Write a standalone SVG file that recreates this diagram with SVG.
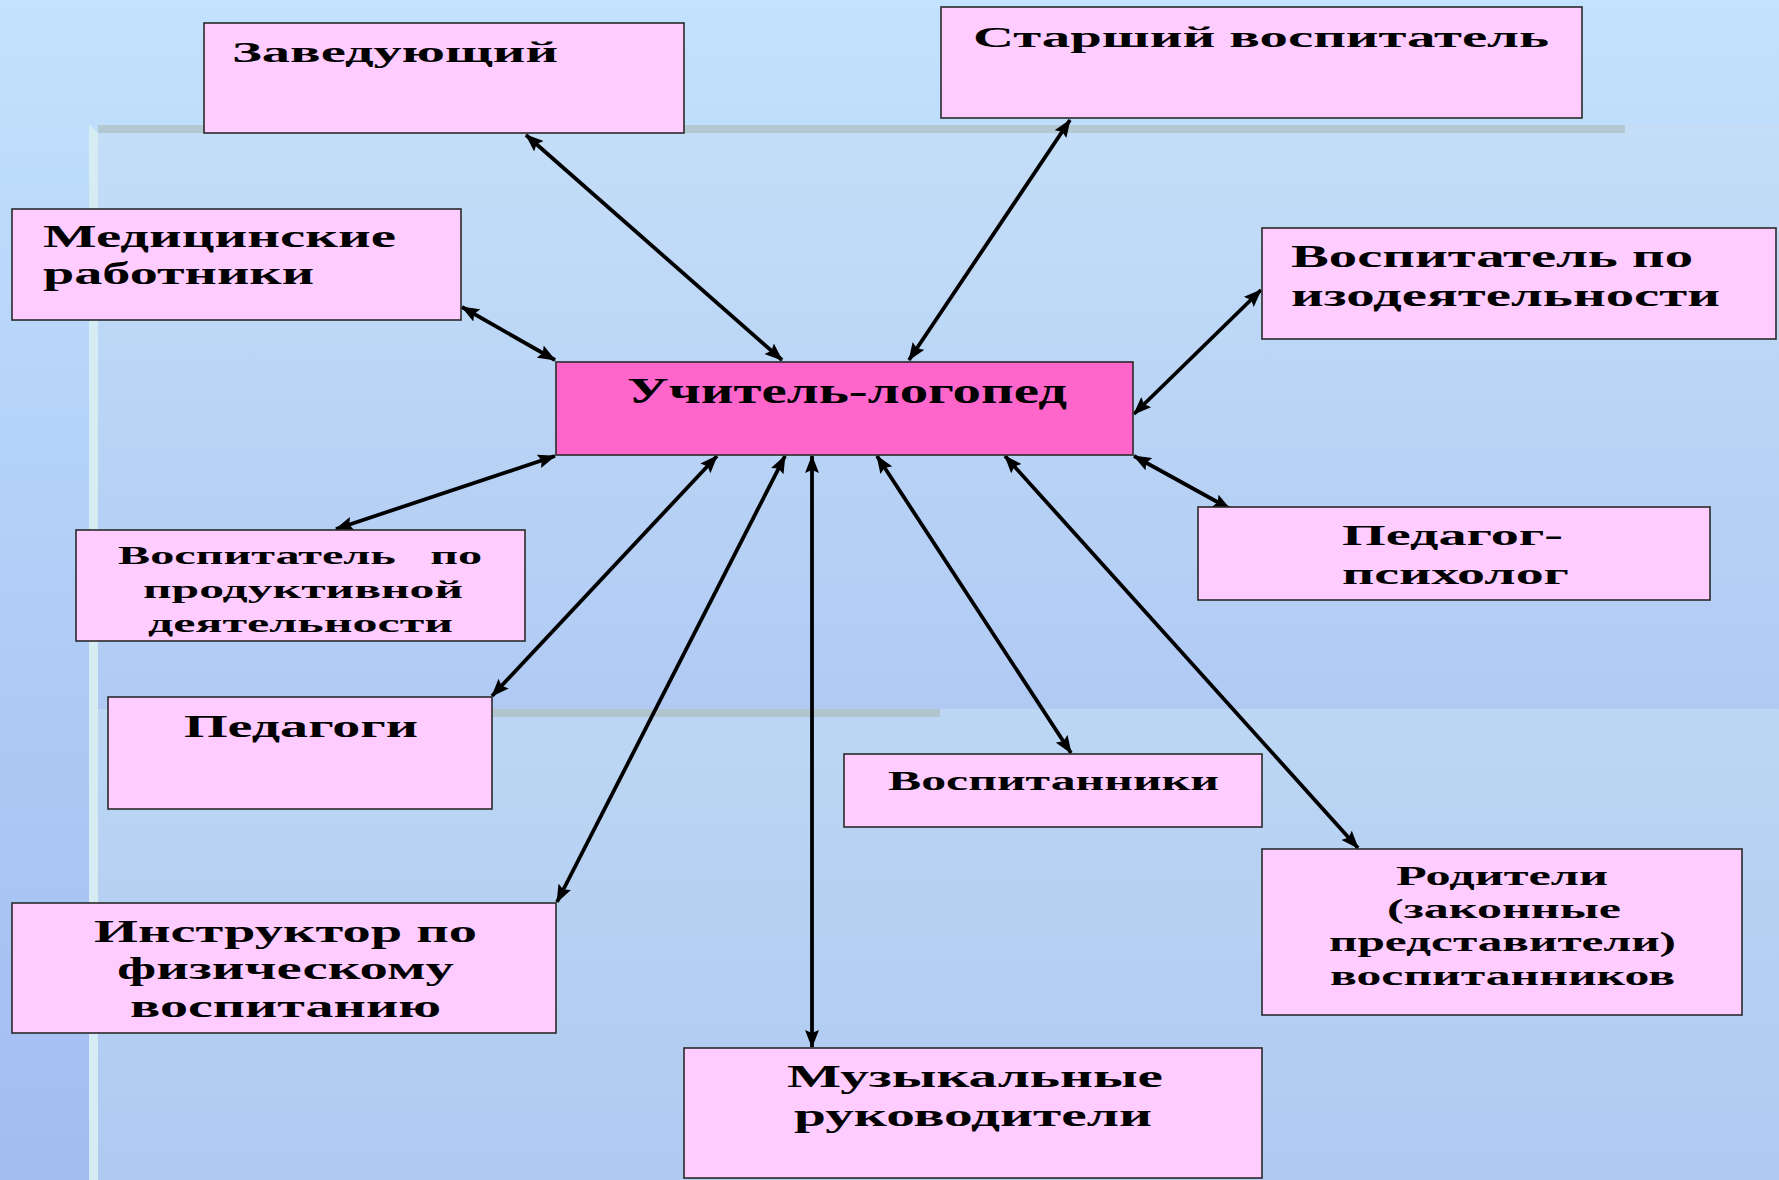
<svg xmlns="http://www.w3.org/2000/svg" width="1779" height="1180" viewBox="0 0 1779 1180">
<defs>
<linearGradient id="bgL" x1="0" y1="0" x2="0" y2="1">
<stop offset="0" stop-color="#c2e2fd"/>
<stop offset="0.5" stop-color="#b0cef7"/>
<stop offset="1" stop-color="#a2bcf0"/>
</linearGradient>
<linearGradient id="bgP1" x1="0" y1="0" x2="0" y2="1">
<stop offset="0" stop-color="#c4def8"/>
<stop offset="1" stop-color="#b0caf4"/>
</linearGradient>
<linearGradient id="bgP2" x1="0" y1="0" x2="0" y2="1">
<stop offset="0" stop-color="#bcd6f4"/>
<stop offset="1" stop-color="#b0c9f1"/>
</linearGradient>
<marker id="ah" viewBox="0 0 18 14" refX="17" refY="7" markerWidth="18" markerHeight="14" markerUnits="userSpaceOnUse" orient="auto-start-reverse">
<path d="M0,0 L18,7 L0,14 L3,7 z" fill="#000"/>
</marker>
</defs>
<style>
.node{fill:#ffccff;stroke:#2a2a2a;stroke-width:1.6}
.center{fill:#ff66cc;stroke:#2a2a2a;stroke-width:1.6}
text{font-family:"Liberation Serif","Times New Roman",serif;font-weight:bold;fill:#000}
.conn line{stroke:#000;stroke-width:3.8;marker-start:url(#ah);marker-end:url(#ah)}
</style>
<g id="background">
<rect x="0" y="0" width="1779" height="1180" fill="url(#bgL)"/>
<rect x="98" y="124" width="1681" height="585" fill="url(#bgP1)"/>
<rect x="98" y="709" width="1681" height="471" fill="url(#bgP2)"/>
<path d="M89,124 L98,133 L98,1180 L89,1180 z" fill="#d4ecf2"/>
<rect x="98" y="125" width="1527" height="8" fill="#b4c8d2"/>
<rect x="108" y="709" width="832" height="8" fill="#b2c4cc"/>
</g>
<g class="conn" id="connectors">
<line x1="526" y1="135" x2="782" y2="360"/>
<line x1="1070" y1="120" x2="909" y2="360"/>
<line x1="462" y1="307" x2="555" y2="360"/>
<line x1="1261" y1="290" x2="1134" y2="414"/>
<line x1="1134" y1="456" x2="1230" y2="509"/>
<line x1="336" y1="529" x2="555" y2="456"/>
<line x1="492" y1="696" x2="717" y2="456"/>
<line x1="557" y1="902" x2="785" y2="456"/>
<line x1="812" y1="1047" x2="812" y2="456"/>
<line x1="1071" y1="753" x2="877" y2="456"/>
<line x1="1358" y1="848" x2="1005" y2="456"/>
</g>
<g id="n-zaveduyushchiy">
<rect class="node" x="204" y="23" width="480" height="110"/>
<text x="232" y="62" font-size="30" textLength="326" lengthAdjust="spacingAndGlyphs">Заведующий</text>
</g>
<g id="n-starshiy">
<rect class="node" x="941" y="7" width="641" height="111"/>
<text x="973" y="47" font-size="30" textLength="576" lengthAdjust="spacingAndGlyphs">Старший воспитатель</text>
</g>
<g id="n-med">
<rect class="node" x="12" y="209" width="449" height="111"/>
<text x="43" y="247" font-size="32" textLength="353" lengthAdjust="spacingAndGlyphs">Медицинские</text>
<text x="43" y="284" font-size="32" textLength="271" lengthAdjust="spacingAndGlyphs">работники</text>
</g>
<g id="n-izo">
<rect class="node" x="1262" y="228" width="514" height="111"/>
<text x="1291" y="267" font-size="32" textLength="402" lengthAdjust="spacingAndGlyphs">Воспитатель по</text>
<text x="1291" y="306" font-size="32" textLength="429" lengthAdjust="spacingAndGlyphs">изодеятельности</text>
</g>
<g id="n-logoped">
<rect class="center" x="556" y="362" width="577" height="93"/>
<text x="627" y="403" font-size="36" textLength="440" lengthAdjust="spacingAndGlyphs">Учитель-логопед</text>
</g>
<g id="n-produkt">
<rect class="node" x="76" y="530" width="449" height="111"/>
<text x="118" y="564" font-size="26" word-spacing="12" textLength="364" lengthAdjust="spacingAndGlyphs">Воспитатель по</text>
<text x="143" y="598" font-size="26" textLength="320" lengthAdjust="spacingAndGlyphs">продуктивной</text>
<text x="148" y="632" font-size="26" textLength="305" lengthAdjust="spacingAndGlyphs">деятельности</text>
</g>
<g id="n-pedagogi">
<rect class="node" x="108" y="697" width="384" height="112"/>
<text x="184" y="737" font-size="32" textLength="234" lengthAdjust="spacingAndGlyphs">Педагоги</text>
</g>
<g id="n-psiholog">
<rect class="node" x="1198" y="507" width="512" height="93"/>
<text x="1342" y="545" font-size="30" textLength="221" lengthAdjust="spacingAndGlyphs">Педагог-</text>
<text x="1342" y="584" font-size="30" textLength="227" lengthAdjust="spacingAndGlyphs">психолог</text>
</g>
<g id="n-vospitanniki">
<rect class="node" x="844" y="754" width="418" height="73"/>
<text x="888" y="790" font-size="28" textLength="331" lengthAdjust="spacingAndGlyphs">Воспитанники</text>
</g>
<g id="n-roditeli">
<rect class="node" x="1262" y="849" width="480" height="166"/>
<text x="1396" y="885" font-size="27" textLength="212" lengthAdjust="spacingAndGlyphs">Родители</text>
<text x="1387" y="918" font-size="27" textLength="234" lengthAdjust="spacingAndGlyphs">(законные</text>
<text x="1329" y="951" font-size="27" textLength="347" lengthAdjust="spacingAndGlyphs">представители)</text>
<text x="1330" y="985" font-size="27" textLength="345" lengthAdjust="spacingAndGlyphs">воспитанников</text>
</g>
<g id="n-instruktor">
<rect class="node" x="12" y="903" width="544" height="130"/>
<text x="94" y="942" font-size="32" textLength="383" lengthAdjust="spacingAndGlyphs">Инструктор по</text>
<text x="117" y="979" font-size="32" textLength="337" lengthAdjust="spacingAndGlyphs">физическому</text>
<text x="130" y="1017" font-size="32" textLength="311" lengthAdjust="spacingAndGlyphs">воспитанию</text>
</g>
<g id="n-muz">
<rect class="node" x="684" y="1048" width="578" height="130"/>
<text x="787" y="1087" font-size="32" textLength="376" lengthAdjust="spacingAndGlyphs">Музыкальные</text>
<text x="794" y="1126" font-size="32" textLength="358" lengthAdjust="spacingAndGlyphs">руководители</text>
</g>
</svg>
